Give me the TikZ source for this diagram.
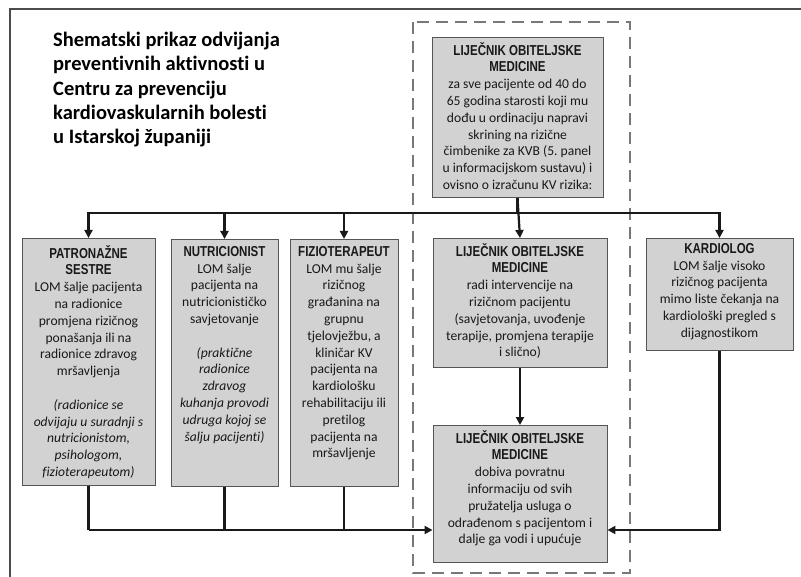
\documentclass[tikz,border=0pt]{standalone}
\usepackage{fontspec}
\setmainfont{Carlito}[Ligatures=NoCommon]
\newfontfamily\headfont[FakeStretch=0.8]{Liberation Sans}
\usetikzlibrary{positioning,arrows.meta}
\frenchspacing

\definecolor{boxfill}{RGB}{210,210,210}
\definecolor{boxline}{RGB}{85,85,85}
\definecolor{dashgray}{RGB}{120,120,120}
\newcommand{\hd}[1]{{\headfont\bfseries\fontsize{14.4}{16.8}\selectfont #1}}

\begin{document}
\begin{tikzpicture}[%
    x=1pt, y=-1pt,
    box/.style={%
        draw=boxline,
        fill=boxfill,
        line width=0.9pt,
        inner sep=0pt,
        anchor=north
    },
    boxtext/.style={%
        align=center,
        inner sep=0pt,
        text=black!90,
        font=\fontsize{13.6}{16.8}\selectfont
    },
    title/.style={%
        align=left,
        anchor=north west,
        inner sep=0pt,
        font=\fontsize{20.5}{24.3}\selectfont\bfseries
    },
    link/.style={%
        line width=2.2pt,
        color=black!90
    },
    >={Triangle[length=8pt,width=8pt]}
]
\useasboundingbox (0,0) rectangle (801,577);

% Frame and grouping
    \draw[line width=1.4pt, black!70] (10,577) -- (10,9) -- (801,9);
    \draw[dashgray, line width=1.5pt, dash pattern=on 12pt off 7pt] (413,22) rectangle (630,573);

% Title
    \node[title] (naslov) at (53,32) {Shematski prikaz odvijanja\\preventivnih aktivnosti u\\Centru za prevenciju\\kardiovaskularnih bolesti\\u Istarskoj županiji};

% Boxes
    \node[box, minimum width=171pt, minimum height=160pt] (lomTop) at (517.5,37) {};
    \node[box, minimum width=133pt, minimum height=247pt] (patronaza) at (88.5,238) {};
    \node[box, minimum width=107pt, minimum height=247pt] (nutricionist) at (224.5,239) {};
    \node[box, minimum width=108pt, minimum height=247pt] (fizioterapeut) at (344,239) {};
    \node[box, minimum width=174pt, minimum height=129pt] (lomMid) at (520,238) {};
    \node[box, minimum width=147pt, minimum height=112pt] (kardiolog) at (719.5,238) {};
    \node[box, minimum width=174pt, minimum height=137pt] (lomBot) at (520,425) {};

% Box texts
    \node[boxtext, below=5pt of lomTop.north] (lomTopText) {\hd{LIJEČNIK OBITELJSKE}\\\hd{MEDICINE}\\za sve pacijente od 40 do\\65 godina starosti koji mu\\dođu u ordinaciju napravi\\skrining na rizične\\čimbenike za KVB (5. panel\\u informacijskom sustavu) i\\ovisno o izračunu KV rizika:};
    \node[boxtext, below=7pt of patronaza.north] (patronazaText) {\hd{PATRONAŽNE}\\\hd{SESTRE}\\LOM šalje pacijenta\\na radionice\\promjena rizičnog\\ponašanja ili na\\radionice zdravog\\mršavljenja\\[16.8pt]\itshape(radionice se\\\itshape odvijaju u suradnji s\\\itshape nutricionistom,\\\itshape psihologom,\\\itshape fizioterapeutom)};
    \node[boxtext, below=7pt of nutricionist.north] (nutricionistText) {\hd{NUTRICIONIST}\\LOM šalje\\pacijenta na\\nutricionističko\\savjetovanje\\[16.8pt]\itshape(praktične\\\itshape radionice\\\itshape zdravog\\\itshape kuhanja provodi\\\itshape udruga kojoj se\\\itshape šalju pacijenti)};
    \node[boxtext, below=7pt of fizioterapeut.north] (fizioterapeutText) {\hd{FIZIOTERAPEUT}\\LOM mu šalje\\rizičnog\\građanina na\\grupnu\\tjelovježbu, a\\kliničar KV\\pacijenta na\\kardiološku\\rehabilitaciju ili\\pretilog\\pacijenta na\\mršavljenje};
    \node[boxtext, below=5pt of lomMid.north] (lomMidText) {\hd{LIJEČNIK OBITELJSKE}\\\hd{MEDICINE}\\radi intervencije na\\rizičnom pacijentu\\(savjetovanja, uvođenje\\terapije, promjena terapije\\i slično)};
    \node[boxtext, below=5pt of kardiolog.north] (kardiologText) {\hd{KARDIOLOG}\\LOM šalje visoko\\rizičnog pacijenta\\mimo liste čekanja na\\kardiološki pregled s\\dijagnostikom};
    \node[boxtext, below=5pt of lomBot.north] (lomBotText) {\hd{LIJEČNIK OBITELJSKE}\\\hd{MEDICINE}\\dobiva povratnu\\informaciju od svih\\pružatelja usluga o\\odrađenom s pacijentom i\\dalje ga vodi i upućuje};

% Buses
    \coordinate (busTop) at (0,213);
    \coordinate (busBot) at (0,530);

% Arrows
\draw[link, ->] (lomTop.south) -- (lomTop.south |- busTop) -| (patronaza.north);
\draw[link, ->] (lomTop.south |- busTop) -| (nutricionist.north);
\draw[link, ->] (lomTop.south |- busTop) -| (fizioterapeut.north);
\draw[link, ->] (lomTop.south |- busTop) -| (kardiolog.north);
\draw[link, ->] (lomTop.south) -- (lomMid.north);

\draw[link] (patronaza.south) -- (patronaza.south |- busBot);
\draw[link] (nutricionist.south) -- (nutricionist.south |- busBot);
\draw[link] (fizioterapeut.south) -- (fizioterapeut.south |- busBot);
\draw[link, ->] (patronaza.south |- busBot) -- (lomBot.west |- busBot);

\draw[link, ->] (lomMid.south) -- (lomBot.north);
\draw[link, ->] (kardiolog.south) -- (kardiolog.south |- busBot) -- (lomBot.east |- busBot);

\end{tikzpicture}
\end{document}
